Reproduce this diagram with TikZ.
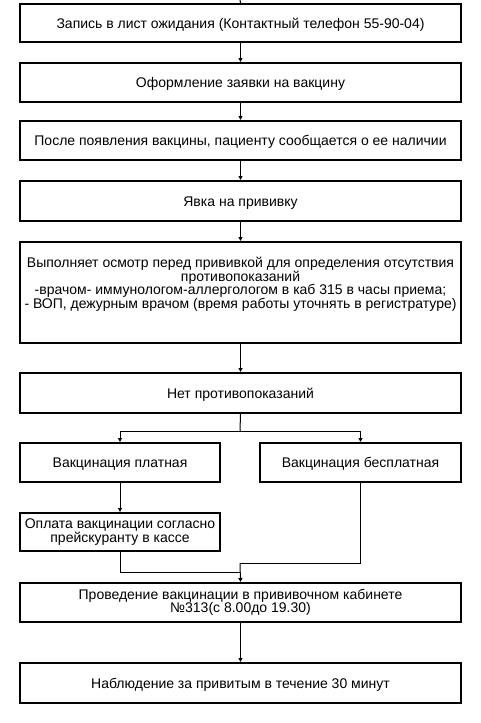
\documentclass[tikz,border=0pt]{standalone}
\usepackage{fontspec}
\setmainfont{Liberation Sans}
\usetikzlibrary{arrows.meta}
\begin{document}
\begin{tikzpicture}[x=1pt,y=-1pt,
  txt/.style={font=\fontsize{14}{13.6}\selectfont, align=center},
  box/.style={draw, line width=2pt, rectangle, inner sep=0pt, txt},
  one/.style={box, text height=10pt, text depth=0pt},
  conn/.style={line width=1pt, -{Triangle[length=4pt,width=4pt]}},
  plain/.style={line width=1pt}]
\useasboundingbox (0,0) rectangle (480,723);
\node[one, minimum width=441, minimum height=38] (b1) at (240.5,23) {Запись в лист ожидания (Контактный телефон 55-90-04)};
\node[one, minimum width=441, minimum height=39] (b2) at (240.5,82.5) {Оформление заявки на вакцину};
\node[one, minimum width=441, minimum height=39] (b3) at (240.5,140.5) {После появления вакцины, пациенту сообщается о ее наличии};
\node[one, minimum width=441, minimum height=40] (b4) at (240.5,201) {Явка на прививку};
\node[box, minimum width=441, minimum height=101] (b5) at (240.5,292.5) {};
\node[txt, anchor=north, inner sep=0pt] (t5) at (240.5,257) {Выполняет осмотр перед прививкой для определения отсутствия\\противопоказаний\\-врачом- иммунологом-аллергологом в каб 315 в часы приема;\\- ВОП, дежурным врачом (время работы уточнять в регистратуре)};
\node[one, minimum width=441, minimum height=40] (b6) at (240.5,393) {Нет противопоказаний};
\node[one, minimum width=200, minimum height=39] (bp) at (120,462.5) {Вакцинация платная};
\node[one, minimum width=201, minimum height=39] (bf) at (360.5,462.5) {Вакцинация бесплатная};
\node[box, minimum width=200, minimum height=38] (bo) at (120,532) {Оплата вакцинации согласно\\прейскуранту в кассе};
\node[box, minimum width=441, minimum height=39] (b7) at (240.5,602.5) {Проведение вакцинации в прививочном кабинете\\№313(с 8.00до 19.30)};
\node[one, minimum width=441, minimum height=40] (b8) at (240.5,683) {Наблюдение за привитым в течение 30 минут};
\coordinate (top) at (240,0);
\coordinate (sp) at (240,431);
\coordinate (m) at (240,563);
\coordinate (m2) at (240,572);
\draw[plain] (top) -- (b1.north);
\draw[conn] (b1) -- (b2);
\draw[conn] (b2) -- (b3);
\draw[conn] (b3) -- (b4);
\draw[conn] (b4) -- (b5);
\draw[conn] (b5) -- (b6);
\draw[plain] (b6.south) -- (sp);
\draw[conn] (sp) -| (bp.north);
\draw[conn] (sp) -| (bf.north);
\draw[conn] (bp) -- (bo);
\draw[plain] (bo.south) |- (m2);
\draw[plain] (bf.south) |- (m);
\draw[conn] (m) -- (b7.north);
\draw[conn] (b7) -- (b8);
\end{tikzpicture}
\end{document}
